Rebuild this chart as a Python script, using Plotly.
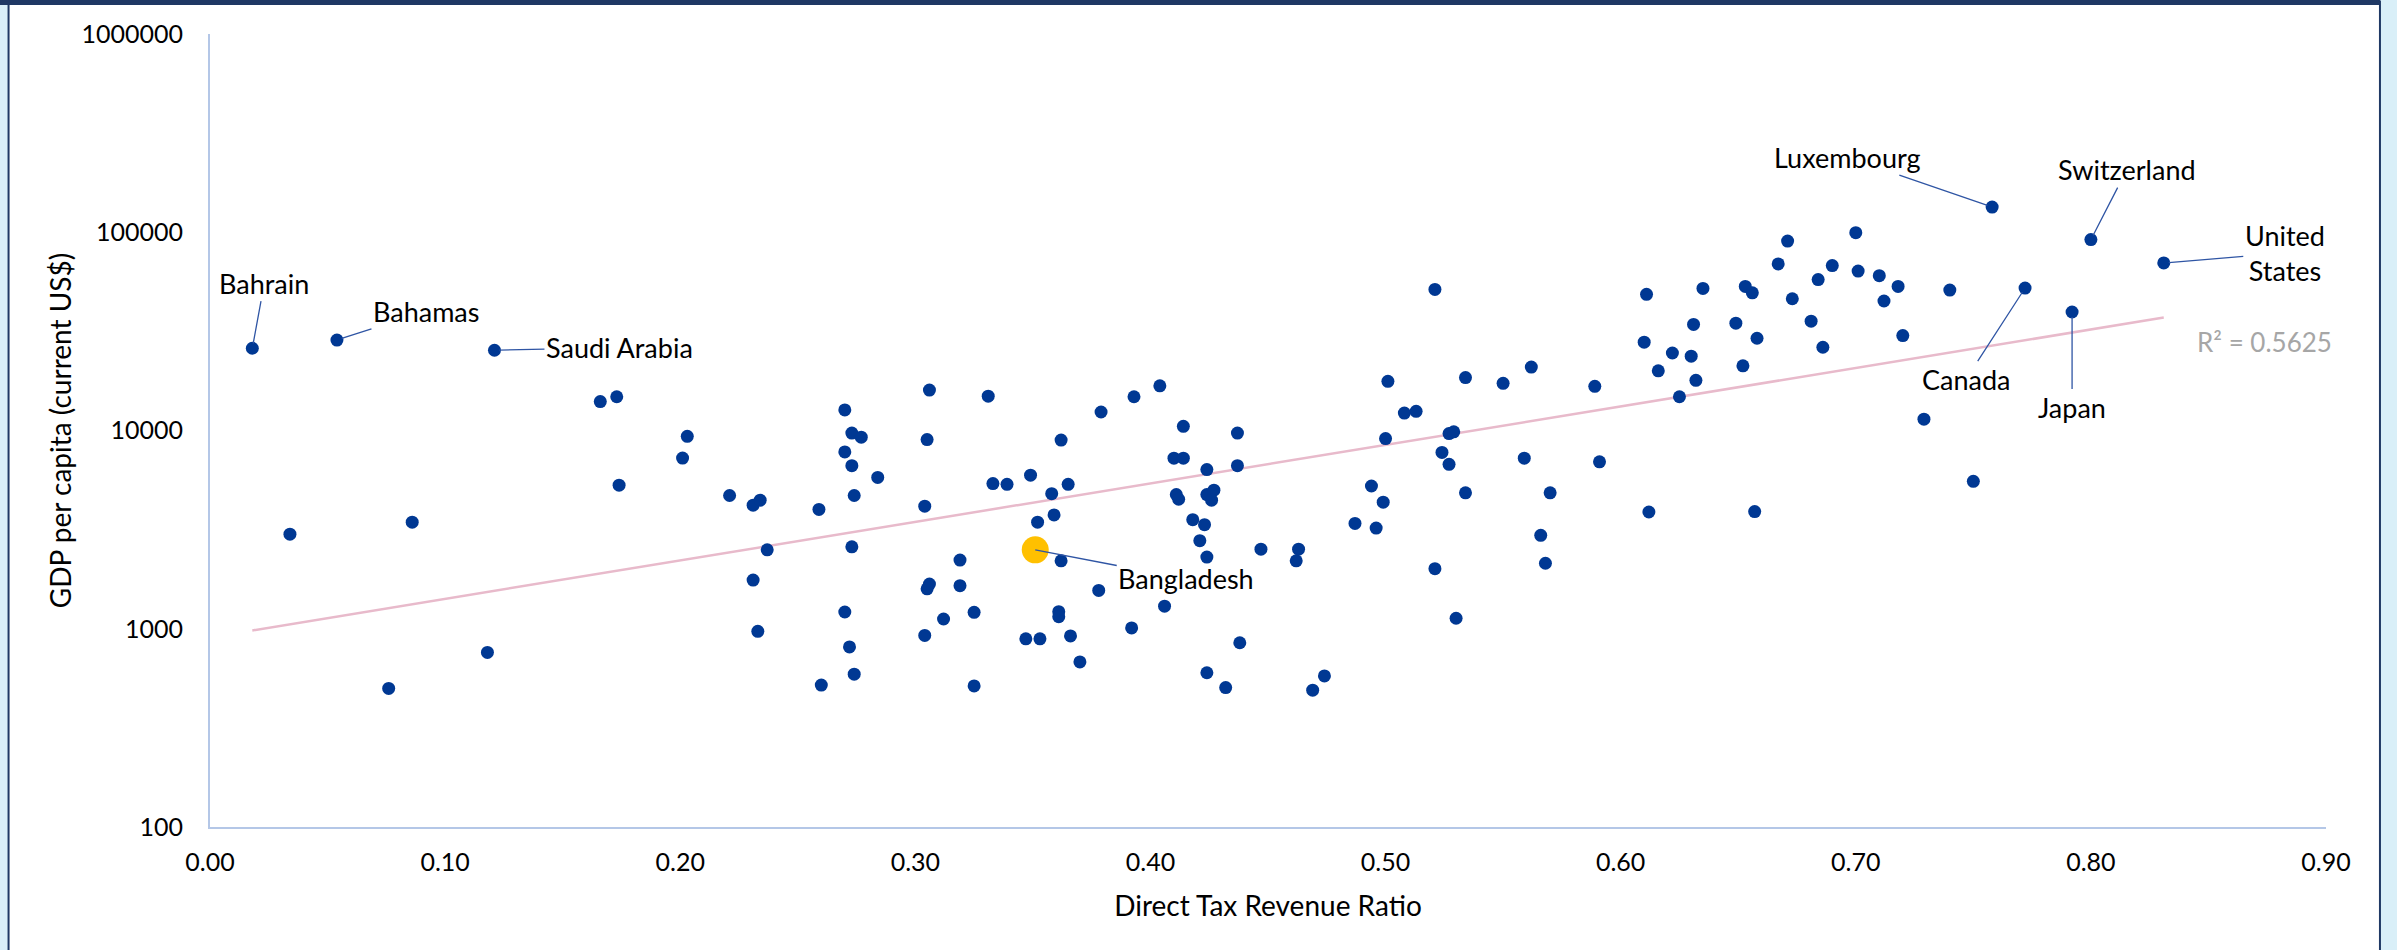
import numpy as np
import plotly.graph_objects as go

# ---------------- data ----------------
# Direct tax revenue ratio (x) and GDP per capita, current US$ (y)
named_countries = ["Bahrain", "Bahamas", "Saudi Arabia", "Luxembourg", "Switzerland",
                   "United States", "Canada", "Japan"]
named_ratio = [0.018, 0.054, 0.121, 0.758, 0.800, 0.831, 0.772, 0.792]
named_gdp = [26000, 28600, 25400, 134000, 91800, 70000, 52300, 39600]

highlight_country = "Bangladesh"
highlight_ratio = 0.351
highlight_gdp = 2500

other_ratio = [
    0.166, 0.173, 0.203, 0.201, 0.174, 0.034, 0.086, 0.118, 0.076,
    0.221, 0.231, 0.234, 0.259, 0.270, 0.273, 0.277, 0.270, 0.273, 0.284,
    0.274, 0.306, 0.305, 0.304, 0.331, 0.333, 0.339, 0.349, 0.362, 0.365,
    0.358, 0.359, 0.352, 0.362, 0.378, 0.379, 0.393, 0.404, 0.414, 0.437,
    0.410, 0.414, 0.424, 0.437, 0.411, 0.412, 0.424, 0.427, 0.426, 0.418,
    0.423, 0.421, 0.424, 0.406, 0.392, 0.366, 0.347, 0.353, 0.370, 0.361,
    0.361, 0.325, 0.312, 0.304, 0.319, 0.319, 0.306, 0.305, 0.273, 0.270,
    0.272, 0.274, 0.260, 0.325, 0.237, 0.231, 0.233, 0.438, 0.424, 0.432,
    0.521, 0.501, 0.534, 0.550, 0.562, 0.589, 0.508, 0.513, 0.500, 0.527,
    0.529, 0.524, 0.527, 0.559, 0.591, 0.494, 0.499, 0.534, 0.570, 0.487,
    0.496, 0.566, 0.568, 0.612, 0.657, 0.447, 0.463, 0.462, 0.521, 0.530,
    0.474, 0.469, 0.611, 0.635, 0.653, 0.656, 0.631, 0.649, 0.658, 0.610,
    0.622, 0.630, 0.616, 0.652, 0.632, 0.625,
    0.671, 0.700, 0.667, 0.690, 0.684, 0.701, 0.710, 0.718, 0.740, 0.673,
    0.712, 0.681, 0.686, 0.720, 0.729, 0.750,
]
other_gdp = [
    14000, 14800, 9350, 7260, 5300, 3000, 3450, 760, 500,
    4700, 4200, 4450, 4000, 12700, 9700, 9250, 7800, 6650, 5800,
    4700, 16000, 9000, 4150, 14900, 5400, 5350, 5950, 8950, 5350,
    4800, 3750, 3450, 2200, 1560, 12400, 14800, 16800, 10500, 9700,
    7250, 7250, 6350, 6650, 4750, 4500, 4750, 5000, 4450, 3550,
    3350, 2780, 2300, 1300, 1010, 920, 890, 890, 680, 1220,
    1150, 1210, 1120, 925, 2220, 1650, 1680, 1590, 2590, 1215,
    810, 590, 520, 515, 2500, 1760, 970, 850, 600, 505,
    51500, 17700, 18500, 17300, 20900, 16700, 12250, 12500, 9100, 9650,
    9850, 7750, 6750, 7250, 6950, 5250, 4350, 4850, 4850, 3400,
    3220, 2960, 2140, 3880, 3900, 2520, 2520, 2200, 2010, 1130,
    578, 490, 48600, 52100, 53300, 49500, 34300, 34800, 29200, 27900,
    24600, 23700, 20000, 21200, 17900, 14800,
    90300, 99500, 69200, 67900, 57700, 63700, 60400, 53300, 51100, 46200,
    45000, 35600, 26300, 30100, 11400, 5540,
]

r_squared_text = "R² = 0.5625"
y_tick_values = [100, 1000, 10000, 100000, 1000000]
y_tick_labels = ["100", "1000", "10000", "100000", "1000000"]
x_tick_values = [0.0, 0.1, 0.2, 0.3, 0.4, 0.5, 0.6, 0.7, 0.8, 0.9]
x_title = "Direct Tax Revenue Ratio"
y_title = "GDP per capita (current US$)"

# ---------------- styling ----------------
FONT = "Lato, 'Open Sans', sans-serif"
BLUE = "#003893"
GOLD = "#FFC000"
TREND = "#E8BACB"
AXIS = "#B4C7E7"
LEADER = "#2F55A4"
NAVY = "#1F3864"

# label text offsets (pixels, text centre relative to point)
label_offsets = {
    "Bahrain": (12, -65),
    "Bahamas": (89, -29),
    "Saudi Arabia": (125, -3),
    "Luxembourg": (-145, -50),
    "Switzerland": (36, -70),
    "United States": (121, -10),
    "Canada": (-59, 91),
    "Japan": (0, 95),
    "Bangladesh": (151, 29),
}

all_ratio = np.array(other_ratio + named_ratio + [highlight_ratio])
all_gdp = np.array(other_gdp + named_gdp + [highlight_gdp])

# exponential trend line (linear in log10 space), as Excel does
slope, intercept = np.polyfit(all_ratio, np.log10(all_gdp), 1)
tx = np.array([all_ratio.min(), all_ratio.max()])
ty = 10 ** (intercept + slope * tx)

fig = go.Figure()

fig.add_trace(go.Scatter(x=tx, y=ty, mode="lines",
                         line=dict(color=TREND, width=2.5),
                         hoverinfo="skip", showlegend=False))

fig.add_trace(go.Scatter(x=other_ratio + named_ratio, y=other_gdp + named_gdp,
                         mode="markers",
                         marker=dict(color=BLUE, size=13, line=dict(width=0)),
                         showlegend=False))

fig.add_trace(go.Scatter(x=[highlight_ratio], y=[highlight_gdp], mode="markers",
                         marker=dict(color=GOLD, size=27, line=dict(width=0)),
                         showlegend=False))

annotations = []
for name, xv, yv in zip(named_countries + [highlight_country],
                        named_ratio + [highlight_ratio],
                        named_gdp + [highlight_gdp]):
    ax, ay = label_offsets[name]
    text = "United<br>States" if name == "United States" else name
    annotations.append(dict(
        x=xv, y=np.log10(yv), xref="x", yref="y",
        text=text, showarrow=True, arrowhead=0, arrowwidth=1.3,
        arrowcolor=LEADER, ax=ax, ay=ay, axref="pixel", ayref="pixel",
        standoff=0 if name == highlight_country else 5,
        font=dict(family=FONT, size=27, color="#000000"), align="center",
    ))

annotations.append(dict(
    x=0.874, y=np.log10(28000), xref="x", yref="y", text=r_squared_text,
    showarrow=False, font=dict(family=FONT, size=26, color="#A6A6A6"),
))

fig.update_layout(
    width=2397, height=950, autosize=False,
    margin=dict(l=210, r=71, t=34, b=123),
    paper_bgcolor="#D9EFF8",
    plot_bgcolor="#FFFFFF",
    font=dict(family=FONT, size=25, color="#000000"),
    annotations=annotations,
    showlegend=False,
    shapes=[
        # white card with navy frame
        dict(type="rect", xref="paper", yref="paper",
             x0=-0.0952, x1=1.0255, y0=-0.2, y1=1.041,
             fillcolor="#FFFFFF", line=dict(color=NAVY, width=2), layer="below"),
        # thick top border
        dict(type="rect", xref="paper", yref="paper",
             x0=-0.12, x1=1.0255, y0=1.0366, y1=1.06,
             fillcolor=NAVY, line=dict(width=0), layer="below"),
    ],
)

fig.update_xaxes(
    range=[0, 0.9], tickvals=x_tick_values, tickformat=".2f",
    showgrid=False, zeroline=False, showline=True, linecolor=AXIS, linewidth=2,
    ticks="", ticklabelstandoff=12,
    tickfont=dict(family=FONT, size=25, color="#000000"),
    title=dict(text=x_title, font=dict(family=FONT, size=28, color="#000000"),
               standoff=21),
)
fig.update_yaxes(
    type="log", range=[2, 6], tickvals=y_tick_values, ticktext=y_tick_labels,
    showgrid=False, zeroline=False, showline=True, linecolor=AXIS, linewidth=2,
    ticks="", ticklabelstandoff=20,
    tickfont=dict(family=FONT, size=25, color="#000000"),
    title=dict(text=y_title, font=dict(family=FONT, size=28, color="#000000"),
               standoff=2),
)

fig.write_html(
    "out.html",
    config={"displayModeBar": False},
    post_script="document.body.style.margin='0';document.body.style.overflow='hidden';",
)
